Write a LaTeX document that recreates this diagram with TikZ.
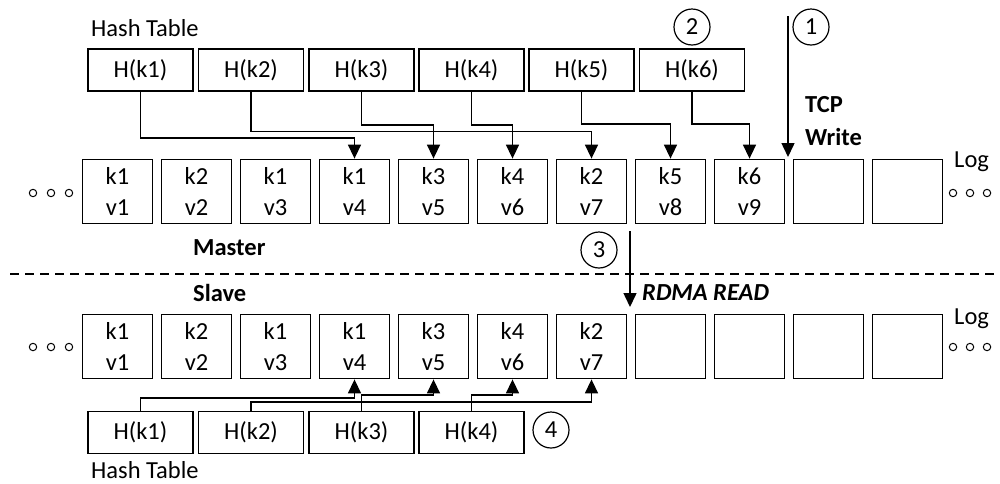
\documentclass[tikz,border=0pt]{standalone}
\usepackage{fontspec}
\setmainfont{Carlito}
\usetikzlibrary{arrows.meta}
\begin{document}
\begin{tikzpicture}[x=1pt,y=-1pt,
  every node/.style={font=\fontsize{24.5}{31}\selectfont},
  logbox/.style={draw,line width=1.8pt,minimum width=70pt,minimum height=64pt,inner sep=0pt,align=center},
  hashbox/.style={draw,line width=1.8pt,minimum width=105pt,minimum height=42pt,inner sep=0pt},
  arr/.style={line width=1.5pt,-{Triangle[width=13pt,length=14pt]}},
  num/.style={draw,circle,line width=1.2pt,minimum size=36pt,inner sep=0pt},
  lbl/.style={anchor=west,inner sep=0pt},
  dot/.style={line width=1pt}
]
\useasboundingbox (0,0) rectangle (1000,483);
% top hash table
\foreach \i/\x in {1/140.5,2/251,3/361.5,4/471.5,5/581.5,6/692}
  \node[hashbox] (h\i) at (\x,70) {H(k\i)};
% bottom hash table
\foreach \i/\x in {1/140.5,2/251,3/361.5,4/471.5}
  \node[hashbox] (g\i) at (\x,432.5) {H(k\i)};
% master log
\foreach \i/\t in {1/{k1\\v1},2/{k2\\v2},3/{k1\\v3},4/{k1\\v4},5/{k3\\v5},6/{k4\\v6},7/{k2\\v7},8/{k5\\v8},9/{k6\\v9},10/{},11/{}}
  \node[logbox] (m\i) at ({117.5+79*(\i-1)},191.5) {\t};
% slave log
\foreach \i/\t in {1/{k1\\v1},2/{k2\\v2},3/{k1\\v3},4/{k1\\v4},5/{k3\\v5},6/{k4\\v6},7/{k2\\v7},8/{},9/{},10/{},11/{}}
  \node[logbox] (s\i) at ({117.5+79*(\i-1)},346.5) {\t};
% labels
\node[lbl] (ht1) at (91,28) {Hash Table};
\node[lbl] (ht2) at (91,470) {Hash Table};
\node[lbl] (log1) at (954,162) {Log};
\node[lbl] (log2) at (954,319) {Log};
\node[lbl,font=\fontsize{24.5}{31}\selectfont\bfseries] (tcp1) at (805,105) {TCP};
\node[lbl,font=\fontsize{24.5}{31}\selectfont\bfseries] (tcp2) at (805,137) {Write};
\node[lbl,font=\fontsize{24.5}{31}\selectfont\bfseries] (master) at (193,248) {Master};
\node[lbl,font=\fontsize{24.5}{31}\selectfont\bfseries] (slave) at (193,293) {Slave};
\node[lbl,font=\fontsize{24.5}{31}\selectfont\bfseries\itshape] (rdma) at (642,293) {RDMA READ};
% numbered circles
\node[num] (c1) at (811,27) {1};
\node[num] (c2) at (692,27) {2};
\node[num] (c3) at (599,250) {3};
\node[num] (c4) at (551,430) {4};
% dots
\foreach \x in {33,51,69} {\draw[dot] (\x,193) circle (3.7); \draw[dot] (\x,347) circle (3.7);}
\foreach \x in {953,970,987} {\draw[dot] (\x,193) circle (3.7); \draw[dot] (\x,347) circle (3.7);}
% dashed separator
\coordinate (dl) at (10,274);
\coordinate (dr) at (998,274);
\draw[line width=1.4pt,dash pattern=on 9pt off 6pt] (dl) -- (dr);
% top pointers
\draw[arr] (h1.south) -- (h1.south |- 0,138) -| (m4.north);
\draw[arr] (h2.south) -- (h2.south |- 0,131.5) -| (m7.north);
\draw[arr] (h3.south) -- (h3.south |- 0,125) -| (m5.north);
\draw[arr] (h4.south) -- (h4.south |- 0,125) -| (m6.north);
\draw[arr] (h5.south) -- (h5.south |- 0,124) -| (m8.north);
\draw[arr] (h6.south) -- (h6.south |- 0,124) -| (m9.north);
% bottom pointers
\draw[arr] (g1.north) -- (g1.north |- 0,398) -| (s4.south);
\draw[arr] (g2.north) -- (g2.north |- 0,402) -| (s7.south);
\draw[arr] (g3.north) -- (g3.north |- 0,395) -| (s5.south);
\draw[arr] (g4.north) -- (g4.north |- 0,395) -| (s6.south);
% TCP write and RDMA read
\coordinate (tcpstart) at (788,16);
\coordinate (tcpend) at (788,157);
\draw[arr] (tcpstart) -- (tcpend);
\coordinate (rdstart) at (630,231);
\coordinate (rdend) at (630,307);
\draw[arr] (rdstart) -- (rdend);
\end{tikzpicture}
\end{document}
